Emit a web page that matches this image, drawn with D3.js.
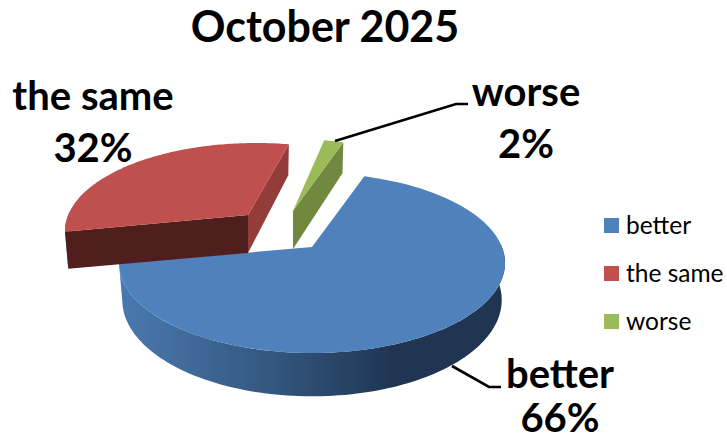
<!DOCTYPE html>
<html><head><meta charset="utf-8">
<script src="https://cdnjs.cloudflare.com/ajax/libs/d3/7.8.5/d3.min.js"></script>
<style>html,body{margin:0;background:#fff}svg{display:block}text{font-family:Lato,Carlito,sans-serif;fill:#000}</style>
</head><body><div id="c"></div>
<script>
const categories = ["better", "the same", "worse"];
const values = [66, 32, 2];
const topColors = ["#4f81bd", "#c0504d", "#9bbb59"];
const startWallColors = ["#2b4a70", "#4f1e1d", "#5f7535"];
const endWallColors = ["#2b4a70", "#943c3a", "#71893f"];

const W = 727, H = 441;
const svg = d3.select("#c").append("svg").attr("width", W).attr("height", H);

// layout of each exploded slice: ellipse centre of the top face
const centers = [[312, 263], [256, 231], [291, 227]];
const RX = [193, 191, 193], RY = [90, 88, 88], APEX_DY = -16, APEX_DX = [0, -8, 2];
const DEPTH = 37, BOT_RX = 0.983, BOT_RY = 1.07;
const WARP = 0.804;

const arcs = d3.pie().value(d => d).sort(null)
  .startAngle(19.5 * Math.PI / 180).endAngle((19.5 + 360) * Math.PI / 180)(values);

// perspective: pie angle -> parameter on the projected ellipse
const warp = a => 2 * Math.atan(WARP * Math.tan(a / 2));
const pt = (i, a, bottom) => {
  const p = warp(a), c = centers[i];
  const rx = RX[i] * (bottom ? BOT_RX : 1), ry = RY[i] * (bottom ? BOT_RY : 1);
  return [c[0] + rx * Math.sin(p), c[1] + (bottom ? DEPTH : 0) - ry * Math.cos(p)];
};
const apex = (i, bottom) => [centers[i][0] + APEX_DX[i], centers[i][1] + APEX_DY + (bottom ? DEPTH + 1 : 0)];
const line = d3.line();
const sample = (a0, a1) => d3.range(0, 121).map(k => a0 + (a1 - a0) * k / 120);

const defs = svg.append("defs");
const grad = defs.append("linearGradient").attr("id", "wall").attr("gradientUnits", "userSpaceOnUse")
  .attr("x1", 120).attr("x2", 395).attr("y1", 0).attr("y2", 0);
grad.append("stop").attr("offset", 0).attr("stop-color", "#4a79b0");
grad.append("stop").attr("offset", 0.55).attr("stop-color", "#33577f");
grad.append("stop").attr("offset", 1).attr("stop-color", "#1f3552");

const g = svg.append("g");
arcs.forEach((d, i) => {
  const s = g.append("g");
  const lo = Math.max(d.startAngle, Math.PI / 2), hi = Math.min(d.endAngle, 3 * Math.PI / 2);
  if (hi > lo) {
    const as = sample(lo, hi);
    s.append("path").attr("fill", "url(#wall)")
      .attr("d", line(as.map(a => pt(i, a, false)).concat(as.slice().reverse().map(a => pt(i, a, true)))) + "Z");
  }
  const wall = (a, color) => s.append("path").attr("fill", color)
    .attr("d", line([apex(i), pt(i, a), pt(i, a, true), apex(i, true)]) + "Z");
  if (Math.sin(d.endAngle) > 0) wall(d.endAngle, endWallColors[i]);
  if (-Math.sin(d.startAngle) > 0) wall(d.startAngle, startWallColors[i]);
  s.append("path").attr("fill", topColors[i])
    .attr("d", line([apex(i)].concat(sample(d.startAngle, d.endAngle).map(a => pt(i, a)))) + "Z");
});

// title
svg.append("text").attr("x", 325).attr("y", 42).attr("text-anchor", "middle")
  .attr("font-size", 43).attr("font-weight", 700).text("October 2025");

// data labels
const labelPos = [[560, 388, 432], [93, 110, 162], [526, 106, 158]];
categories.forEach((c, i) => {
  const lp = labelPos[i];
  svg.append("text").attr("x", lp[0]).attr("y", lp[1]).attr("text-anchor", "middle")
    .attr("font-size", 40).attr("font-weight", 700).text(c);
  svg.append("text").attr("x", lp[0]).attr("y", lp[2]).attr("text-anchor", "middle")
    .attr("font-size", 40).attr("font-weight", 700).text(values[i] + "%");
});

// leader lines
const leaders = [[[452, 366], [489, 387], [501, 387]], [[335, 141], [456, 104], [468, 104]]];
leaders.forEach(l => svg.append("path").attr("d", line(l)).attr("fill", "none")
  .attr("stroke", "#000").attr("stroke-width", 2.6));

// legend
const legendY = d3.scalePoint().domain(categories).range([226, 322]);
categories.forEach((c, i) => {
  svg.append("rect").attr("x", 604).attr("y", legendY(c) - 8).attr("width", 15).attr("height", 15).attr("fill", topColors[i]);
  svg.append("text").attr("x", 626).attr("y", legendY(c) + 8).attr("font-size", 24.5).attr("fill", "#111").text(c);
});
</script></body></html>
